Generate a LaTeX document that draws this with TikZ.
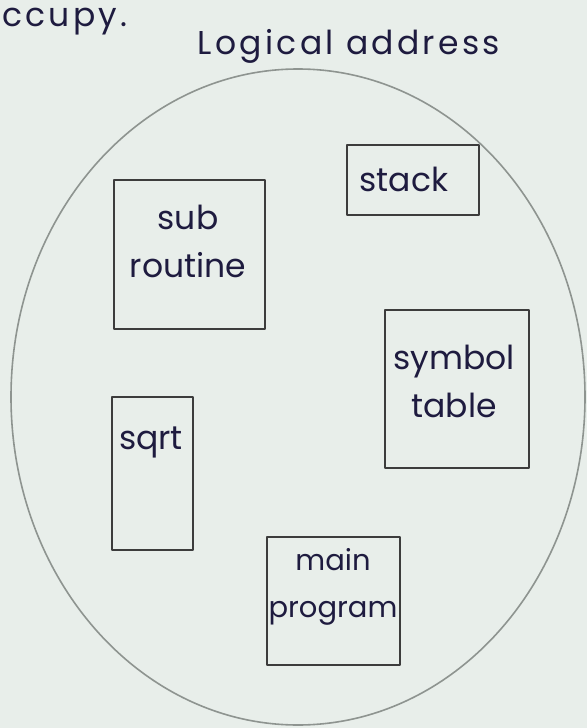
\documentclass[tikz,border=0pt]{standalone}
\usepackage{fontspec}
\setmainfont{Poppins}
\usetikzlibrary{positioning}
\definecolor{paper}{HTML}{E8EEEA}
\definecolor{ink}{HTML}{1E1B3F}
\definecolor{pencil}{HTML}{3C3C3C}
\definecolor{rim}{HTML}{8E9490}
\tikzset{
  every picture/.style={
    line join=round,
    line cap=round,
  },
  segbox/.style={draw=pencil, line width=1.4pt, inner sep=0pt},
  hand/.style={text=ink, font=\fontsize{33}{48}\selectfont, align=center, inner sep=0pt},
  spaced/.style={font=\fontsize{33}{48}\selectfont\addfontfeature{LetterSpace=10}},
}

\begin{document}
\begin{tikzpicture}[x=1pt, y=-1pt]
% Paper
\fill[paper] (0,0) rectangle (587,728);
% Heading
\node[hand, spaced, anchor=base west] (cut) at (2,27) {ccupy.};
\node[hand, spaced, anchor=base] (title) at (349,54) {Logical address};

% Logical address space
\draw[rim, line width=1.6pt] (298,397) ellipse (287 and 328);

% Segments
\node[segbox, minimum width=132pt, minimum height=70pt] (stack) at (413,180) {};
\node[segbox, minimum width=151pt, minimum height=149pt] (subr) at (189.5,254.5) {};
\node[segbox, minimum width=144pt, minimum height=158pt] (symtab) at (457,389) {};
\node[segbox, minimum width=81pt, minimum height=153pt] (sqrt) at (152.5,473.5) {};
\node[segbox, minimum width=133pt, minimum height=128pt] (mainprog) at (333.5,601) {};

% Segment names
\node[hand] (stacktxt) at (404,179) {stack};
\node[hand] (subrtxt) at (188,241) {sub\\routine};
\node[hand] (symtabtxt) at (454,381) {symbol\\table};
\node[hand] (sqrttxt) at (151,442) {sqrt};
\node[hand, font=\fontsize{29}{47}\selectfont] (maintxt) at (333,587) {main\\program};
\end{tikzpicture}
\end{document}
